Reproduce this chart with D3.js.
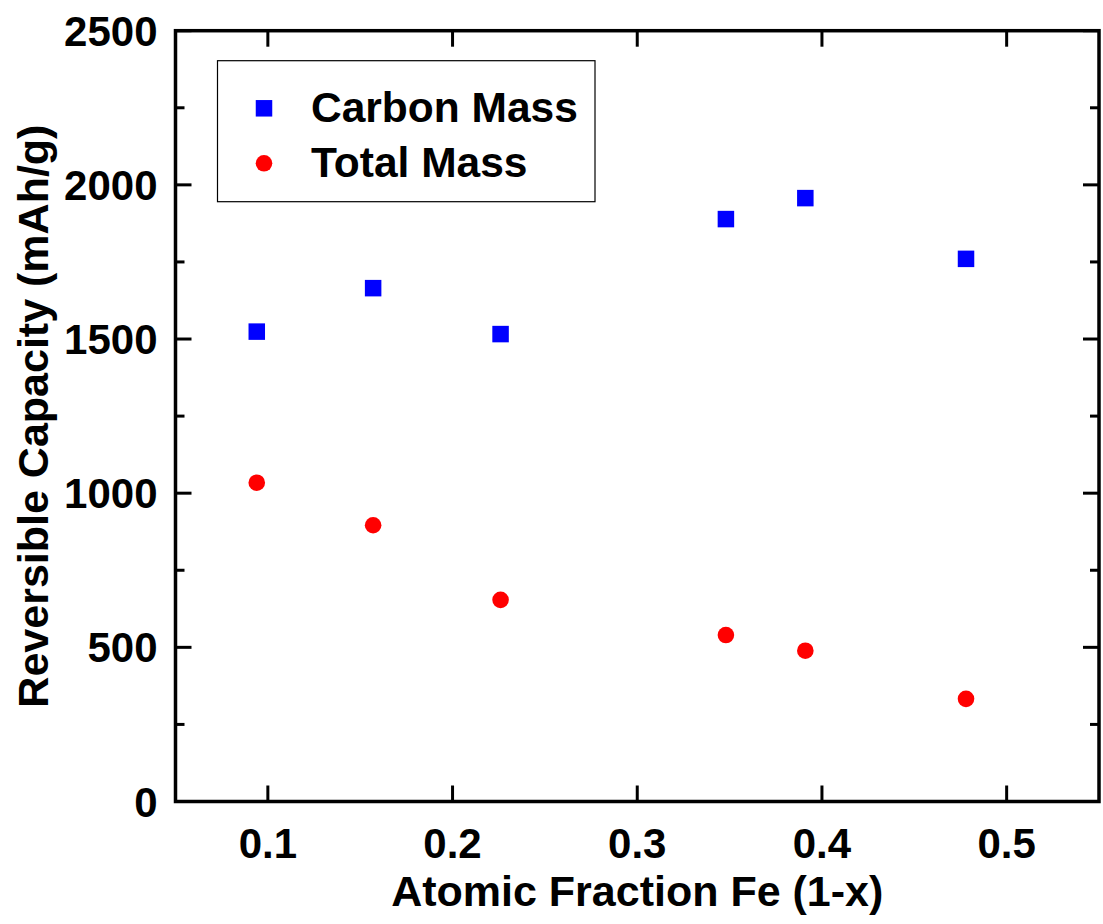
<!DOCTYPE html>
<html>
<head>
<meta charset="utf-8">
<script src="https://cdn.jsdelivr.net/npm/d3@7"></script>
<style>
  body { margin: 0; background: #fff; }
  svg text { font-family: "Liberation Sans", Arial, sans-serif; font-weight: bold; }
</style>
</head>
<body>
<svg id="chart"></svg>
<script>
// atomic fraction Fe (1-x)
const fraction = [0.094, 0.157, 0.226, 0.348, 0.391, 0.478];
// reversible capacity, mAh/g
const carbonMass = [1524, 1665, 1516, 1889, 1957, 1760];
const totalMass = [1034, 896, 654, 540, 489, 333];
const xTicks = [0.1, 0.2, 0.3, 0.4, 0.5];
const yTicks = [0, 500, 1000, 1500, 2000, 2500];
const yMinor = [250, 750, 1250, 1750, 2250];

document.addEventListener("DOMContentLoaded", () => {
  const width = 1103, height = 924;
  const margin = {left: 175.5, right: 4, top: 30.7, bottom: 122.5};

  const svg = d3.select("#chart").attr("width", width).attr("height", height);

  const x = d3.scaleLinear().domain([0.05, 0.55]).range([margin.left, width - margin.right]);
  const y = d3.scaleLinear().domain([0, 2500]).range([height - margin.bottom, margin.top]);

  const x0 = x.range()[0], x1 = x.range()[1];
  const y0 = y.range()[0], y1 = y.range()[1];

  // ticks point inward on all four sides
  const ticks = svg.append("g").attr("stroke", "#000").attr("stroke-width", 3);
  xTicks.forEach(t => {
    ticks.append("line").attr("x1", x(t)).attr("x2", x(t)).attr("y1", y0).attr("y2", y0 - 16);
    ticks.append("line").attr("x1", x(t)).attr("x2", x(t)).attr("y1", y1).attr("y2", y1 + 16);
  });
  yTicks.forEach(t => {
    ticks.append("line").attr("x1", x0).attr("x2", x0 + 16).attr("y1", y(t)).attr("y2", y(t));
    ticks.append("line").attr("x1", x1).attr("x2", x1 - 16).attr("y1", y(t)).attr("y2", y(t));
  });
  yMinor.forEach(t => {
    ticks.append("line").attr("x1", x0).attr("x2", x0 + 9).attr("y1", y(t)).attr("y2", y(t));
    ticks.append("line").attr("x1", x1).attr("x2", x1 - 9).attr("y1", y(t)).attr("y2", y(t));
  });

  // frame
  svg.append("rect")
    .attr("x", x0).attr("y", y1)
    .attr("width", x1 - x0).attr("height", y0 - y1)
    .attr("fill", "none").attr("stroke", "#000").attr("stroke-width", 3.5);

  // tick labels
  svg.append("g").selectAll("text").data(xTicks).join("text")
    .attr("x", d => x(d)).attr("y", y0 + 56)
    .attr("text-anchor", "middle").attr("font-size", 42)
    .text(d3.format(".1f"));
  svg.append("g").selectAll("text").data(yTicks).join("text")
    .attr("x", x0 - 18).attr("y", d => y(d) + 15)
    .attr("text-anchor", "end").attr("font-size", 42)
    .text(d => d);

  // axis titles
  svg.append("text")
    .attr("x", (x0 + x1) / 2).attr("y", 906)
    .attr("text-anchor", "middle").attr("font-size", 43)
    .text("Atomic Fraction Fe (1-x)");
  svg.append("text")
    .attr("transform", `translate(48,${(y0 + y1) / 2}) rotate(-90)`)
    .attr("text-anchor", "middle").attr("font-size", 43)
    .text("Reversible Capacity (mAh/g)");

  // points
  const s = 16.5;
  svg.append("g").selectAll("rect").data(fraction).join("rect")
    .attr("x", (d) => x(d) - s / 2)
    .attr("y", (d, i) => y(carbonMass[i]) - s / 2)
    .attr("width", s).attr("height", s)
    .attr("fill", "#0000ff");
  svg.append("g").selectAll("circle").data(fraction).join("circle")
    .attr("cx", d => x(d))
    .attr("cy", (d, i) => y(totalMass[i]))
    .attr("r", 8.3)
    .attr("fill", "#ff0000");

  // legend
  const lg = svg.append("g");
  lg.append("rect").attr("x", 217.5).attr("y", 60.7).attr("width", 377.5).attr("height", 141)
    .attr("fill", "#fff").attr("stroke", "#000").attr("stroke-width", 1.2);
  lg.append("rect").attr("x", 264 - s / 2).attr("y", 108.3 - s / 2).attr("width", s).attr("height", s)
    .attr("fill", "#0000ff");
  lg.append("circle").attr("cx", 264).attr("cy", 163.3).attr("r", 8.3).attr("fill", "#ff0000");
  lg.append("text").attr("x", 311).attr("y", 121.5).attr("font-size", 42.5).text("Carbon Mass");
  lg.append("text").attr("x", 311).attr("y", 176.5).attr("font-size", 42.5).text("Total Mass");
});
</script>
</body>
</html>
